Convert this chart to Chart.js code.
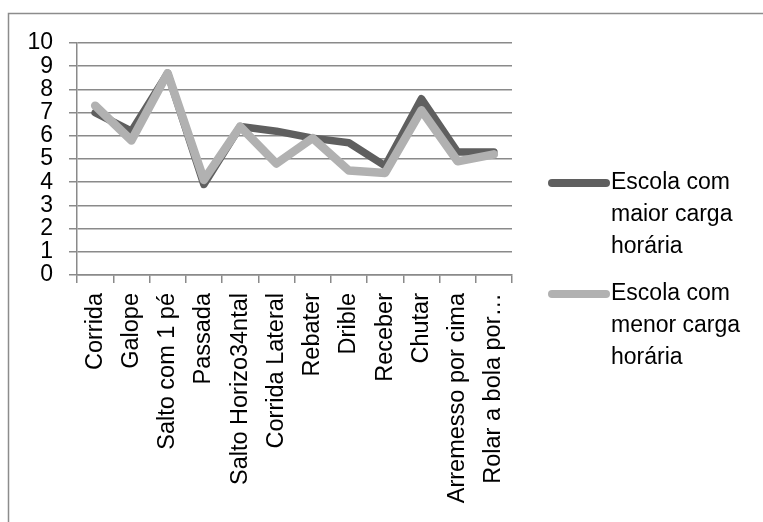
<!DOCTYPE html>
<html>
<head>
<meta charset="utf-8">
<script src="https://cdn.jsdelivr.net/npm/chart.js@4/dist/chart.umd.min.js"></script>
<style>
  html, body { margin: 0; padding: 0; background: #fff; }
  canvas { display: block; }
</style>
</head>
<body>
<canvas id="c" width="763" height="522"></canvas>
<script>
// Categories (skills) and the two schools' scores
const categories = [
  'Corrida', 'Galope', 'Salto com 1 pé', 'Passada', 'Salto Horizo34ntal',
  'Corrida Lateral', 'Rebater', 'Drible', 'Receber', 'Chutar',
  'Arremesso por cima', 'Rolar a bola por…'
];
const maiorCarga = [7.0, 6.2, 8.7, 3.9, 6.4, 6.2, 5.9, 5.7, 4.7, 7.6, 5.3, 5.3];
const menorCarga = [7.3, 5.8, 8.7, 4.1, 6.4, 4.8, 5.9, 4.5, 4.4, 7.1, 4.9, 5.2];
const yTicks = [0, 1, 2, 3, 4, 5, 6, 7, 8, 9, 10];
const legendLines = [
  ['Escola com', 'maior carga', 'horária'],
  ['Escola com', 'menor carga', 'horária']
];

const FONT = '"Liberation Sans", Arial, sans-serif';
const FONT_SIZE = 23;
const GRID = '#8a8a8a';

// Outer frame (left and top edges)
const framePlugin = {
  id: 'frame',
  beforeDraw(chart) {
    const ctx = chart.ctx;
    ctx.save();
    ctx.strokeStyle = '#8c8c8c';
    ctx.lineWidth = 1.5;
    ctx.beginPath();
    ctx.moveTo(8.5, chart.height);
    ctx.lineTo(8.5, 13.5);
    ctx.lineTo(chart.width, 13.5);
    ctx.stroke();
    ctx.restore();
  }
};

// Legend with wrapped labels on the right
const sideLegend = {
  id: 'sideLegend',
  afterDraw(chart) {
    const ctx = chart.ctx;
    ctx.save();
    ctx.font = FONT_SIZE + 'px ' + FONT;
    ctx.textBaseline = 'middle';
    ctx.fillStyle = '#000';
    const starts = [183, 294];
    const lineGap = 32;
    chart.data.datasets.forEach((ds, i) => {
      const y0 = starts[i];
      ctx.strokeStyle = ds.borderColor;
      ctx.lineWidth = 8;
      ctx.lineCap = 'round';
      ctx.beginPath();
      ctx.moveTo(552, y0);
      ctx.lineTo(606, y0);
      ctx.stroke();
      legendLines[i].forEach((t, k) => {
        ctx.fillText(t, 611, y0 + k * lineGap);
      });
    });
    ctx.restore();
  }
};

new Chart(document.getElementById('c'), {
  type: 'line',
  data: {
    labels: categories,
    datasets: [
      {
        label: 'Escola com maior carga horária',
        data: maiorCarga,
        borderColor: '#5f5f5f',
        borderWidth: 7.5,
        order: 1
      },
      {
        label: 'Escola com menor carga horária',
        data: menorCarga,
        borderColor: '#b1b1b1',
        borderWidth: 8.5,
        order: 0
      }
    ]
  },
  options: {
    responsive: false,
    animation: false,
    layout: { padding: { top: 43, right: 251, left: 0, bottom: 0 } },
    elements: {
      line: { tension: 0, borderCapStyle: 'round', borderJoinStyle: 'round', fill: false },
      point: { radius: 0, hoverRadius: 0 }
    },
    plugins: { legend: { display: false }, tooltip: { enabled: false } },
    scales: {
      x: {
        offset: true,
        afterFit(s) { s.height = 247; },
        grid: {
          offset: true,
          drawOnChartArea: false,
          drawTicks: true,
          tickLength: 8,
          color: GRID,
          lineWidth: 1.5
        },
        border: { display: true, color: GRID, width: 1.5 },
        ticks: {
          minRotation: 90,
          maxRotation: 90,
          autoSkip: false,
          padding: 10,
          color: '#000',
          font: { family: FONT, size: 23.5 }
        }
      },
      y: {
        min: 0,
        max: 10,
        afterFit(s) { s.width = 77; },
        afterBuildTicks(s) { s.ticks = yTicks.map(v => ({ value: v })); },
        grid: {
          color: GRID,
          lineWidth: 1.5,
          drawTicks: true,
          tickLength: 8
        },
        border: { display: true, color: GRID, width: 1.5 },
        ticks: {
          autoSkip: false,
          padding: 16,
          color: '#000',
          font: { family: FONT, size: FONT_SIZE }
        }
      }
    }
  },
  plugins: [framePlugin, sideLegend]
});
</script>
</body>
</html>
